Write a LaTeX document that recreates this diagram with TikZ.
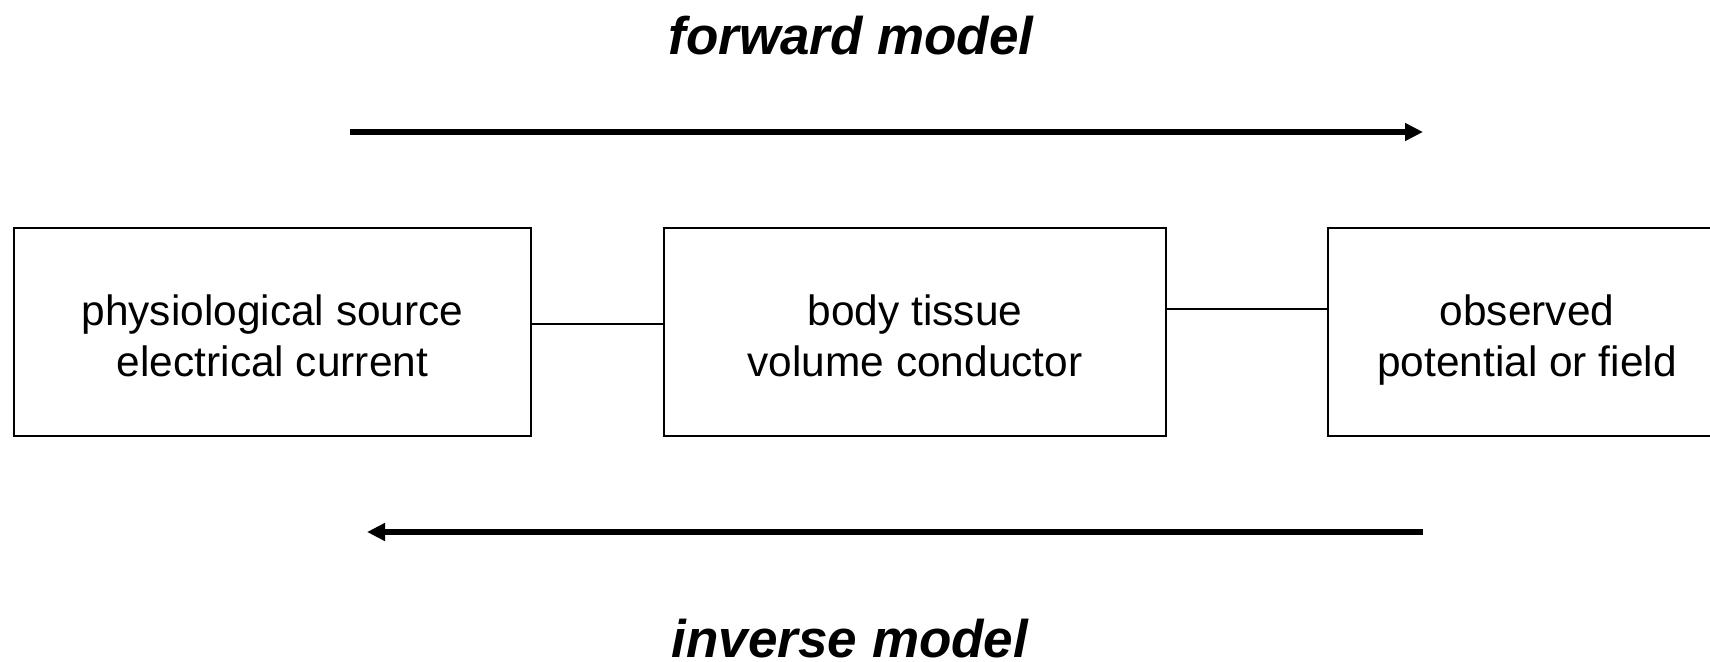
\documentclass[tikz,border=0pt]{standalone}
\usepackage{fontspec}
\setmainfont{Liberation Sans}
\usetikzlibrary{arrows.meta}
\newcommand\tophi{\rule{0pt}{47pt}}
\newcommand\botlo{\rule[-9.6pt]{0pt}{9.6pt}}
\begin{document}
\begin{tikzpicture}[x=1pt,y=-1pt,
  blockbox/.style={draw=black,line width=1.6pt,inner sep=0pt,align=center,
    minimum height=208pt,font=\fontsize{42.4}{51}\selectfont},
  title/.style={font=\fontsize{53}{60}\selectfont\bfseries\itshape},
  bigarrow/.style={line width=5.5pt,-{Triangle[length=18pt,width=17pt]}},
  link/.style={line width=1.4pt}]
\useasboundingbox (0,0) rectangle (1710,661);
\node[blockbox,minimum width=517pt] (src) at (272.5,332) {\tophi physiological source\\\botlo electrical current};
\node[blockbox,minimum width=502pt] (vol) at (915,332) {\tophi body tissue\\\botlo volume conductor};
\node[blockbox,minimum width=398pt] (obs) at (1527,332) {\tophi observed\\\botlo potential or field};
\draw[link] ([yshift=8pt]src.east) -- ([yshift=8pt]vol.west);
\draw[link] ([yshift=23pt]vol.east) -- ([yshift=23pt]obs.west);
\node[title] (fwd) at (851,36) {forward model};
\node[title] (inv) at (850,639) {inverse model};
\coordinate (fs) at (350,132);
\coordinate (fe) at (1423,132);
\coordinate (is) at (1423,532);
\coordinate (ie) at (367,532);
\draw[bigarrow] (fs) -- (fe);
\draw[bigarrow] (is) -- (ie);
\end{tikzpicture}
\end{document}
